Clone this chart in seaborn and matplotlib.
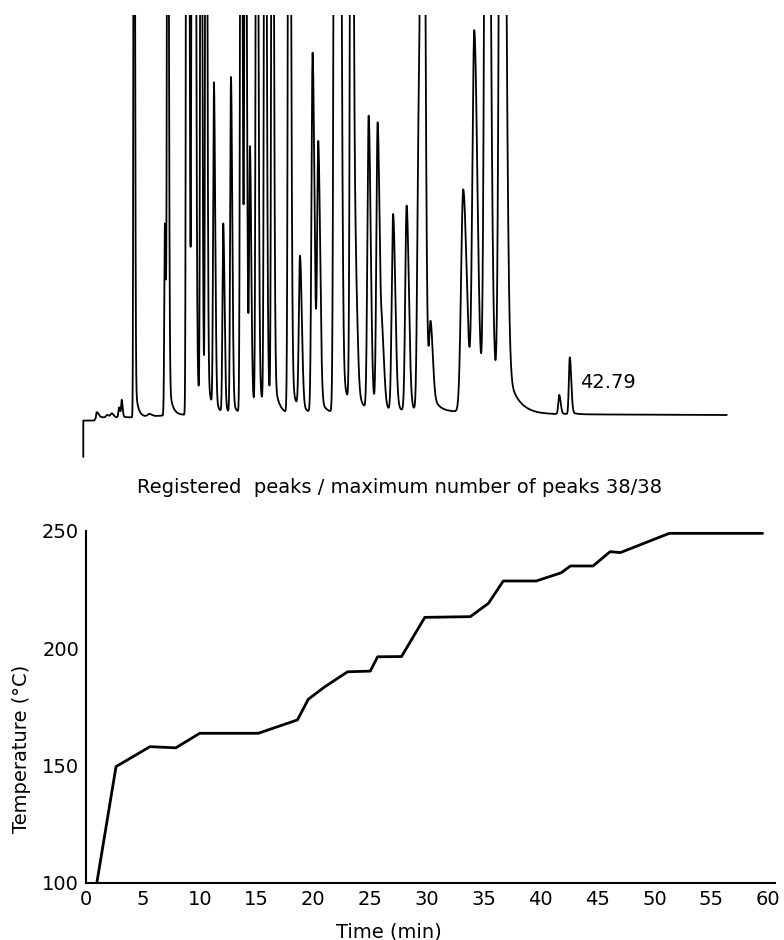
import numpy as np
import pandas as pd
import matplotlib
matplotlib.use("Agg")
import matplotlib.pyplot as plt
import seaborn as sns

# temperature programme (bottom panel)
time_min = [0.95, 2.64, 5.63, 7.9, 10.0, 15.15, 18.6, 19.55, 21.0, 23.0, 25.0, 25.65,
            27.75, 29.8, 33.8, 35.4, 36.7, 39.6, 41.8, 42.6, 44.6, 46.1, 47.0, 51.3, 59.5]
temp_c = [100, 149.6, 158.1, 157.6, 163.8, 163.8, 169.5, 178.3, 183.6, 190, 190.3, 196.4,
          196.5, 213.2, 213.5, 219.2, 228.7, 228.7, 232.2, 235.1, 235.1, 241.2, 240.8, 249, 249]

# chromatogram peaks: retention time (min), height (% full scale), width (min)
peak_time = [1.2, 2.1, 2.5, 3.15, 3.38, 4.46, 5.8, 7.18, 7.42, 9.09, 9.25, 9.58, 9.82,
             10.35, 10.79, 11.49, 12.31, 12.99, 13.87, 14.25, 14.66, 15.25, 15.98, 16.62,
             18.1, 19.06, 20.17, 20.67, 22.13, 22.52, 23.58, 23.98, 25.1, 25.89, 26.3,
             27.25, 28.44, 29.5, 29.82, 30.55, 33.42, 34.39, 35.48, 36.8, 41.86, 42.79]
peak_height = [1.3, 0.6, 1.0, 2.5, 4.2, 260, 0.6, 48, 220, 250, 200, 230, 210,
               240, 260, 81.5, 47.3, 84, 230, 200, 62.5, 240, 250, 230,
               260, 38.2, 90, 65.8, 250, 240, 260, 23.7, 73.6, 71.7, 15.4,
               49.3, 51.5, 70, 280, 17.9, 55.6, 94.2, 260, 300, 4.8, 14.2]
peak_width = [0.1, 0.1, 0.1, 0.06, 0.05, 0.045, 0.14, 0.055, 0.055, 0.055, 0.055, 0.06, 0.06,
              0.06, 0.06, 0.07, 0.07, 0.07, 0.07, 0.07, 0.07, 0.075, 0.075, 0.075,
              0.085, 0.1, 0.1, 0.1, 0.1, 0.1, 0.1, 0.1, 0.11, 0.11, 0.11,
              0.12, 0.12, 0.12, 0.12, 0.12, 0.19, 0.17, 0.17, 0.18, 0.08, 0.08]

baseline_t = [0, 1.1, 1.15, 4.2, 8.0, 30.0, 33.0, 40.0, 56.6]
baseline_v = [-1.4, -1.4, -0.6, -0.6, 0.0, 0.5, 0.8, 0.2, 0.0]

labelled_peak = 42.79


def chromatogram():
    t = np.linspace(0, 56.6, 14000)
    y = np.interp(t, baseline_t, baseline_v)
    for t0, h, s in zip(peak_time, peak_height, peak_width):
        d = t - t0
        left = np.exp(-0.5 * (d / s) ** 2)
        right = 0.95 * np.exp(-0.5 * (d / (1.6 * s)) ** 2) + 0.05 * np.exp(-np.clip(d, 0, None) / (5 * s))
        y = y + h * np.where(d < 0, left, right)
    # injection mark
    t = np.concatenate([[0.0], t])
    y = np.concatenate([[-10.5], y])
    return pd.DataFrame({"t": t, "signal": y})


sns.set_style("white")
plt.rcParams["font.family"] = ["DejaVu Sans"]
plt.rcParams["text.color"] = "black"
plt.rcParams["axes.labelcolor"] = "black"

fig = plt.figure(figsize=(7.84, 9.40), dpi=100)
ax_top = fig.add_axes([78 / 784, 1 - 460 / 940, 697 / 784, 445 / 940])
ax = fig.add_axes([86 / 784, 1 - 883 / 940, 689 / 784, 352 / 940])

# chromatogram
chrom = chromatogram()
sns.lineplot(data=chrom, x="t", y="signal", ax=ax_top, color="black", lw=1.3,
             sort=False, estimator=None)
ax_top.set_xlim(-0.466, 60.84)
ax_top.set_ylim(-11.25, 100)
ax_top.axis("off")
ax_top.text(labelled_peak + 0.9, 8, f"{labelled_peak:.2f}", va="center", ha="left", fontsize=14)

fig.text(0.51, 1 - 487 / 940, "Registered  peaks / maximum number of peaks 38/38",
         ha="center", va="center", fontsize=14)

# temperature programme
prog = pd.DataFrame({"Time (min)": time_min, "Temperature (°C)": temp_c})
sns.lineplot(data=prog, x="Time (min)", y="Temperature (°C)", ax=ax, color="black", lw=2)
ax.set_xlim(0, 60.6)
ax.set_ylim(100, 250)
ax.set_xticks(range(0, 61, 5))
ax.set_yticks([100, 150, 200, 250])
for side in ["top", "right"]:
    ax.spines[side].set_visible(False)
for side in ["left", "bottom"]:
    ax.spines[side].set_linewidth(1.5)
    ax.spines[side].set_color("black")
ax.tick_params(direction="in", length=7, width=1.3, labelsize=14, pad=5, colors="black")
ax.set_xlabel("Time (min)", fontsize=14)
ax.set_ylabel("Temperature (°C)", fontsize=14)
ax.xaxis.set_label_coords(0.44, -0.112)
ax.yaxis.set_label_coords(-0.08, 0.38)

fig.savefig("out.png", dpi=100)
